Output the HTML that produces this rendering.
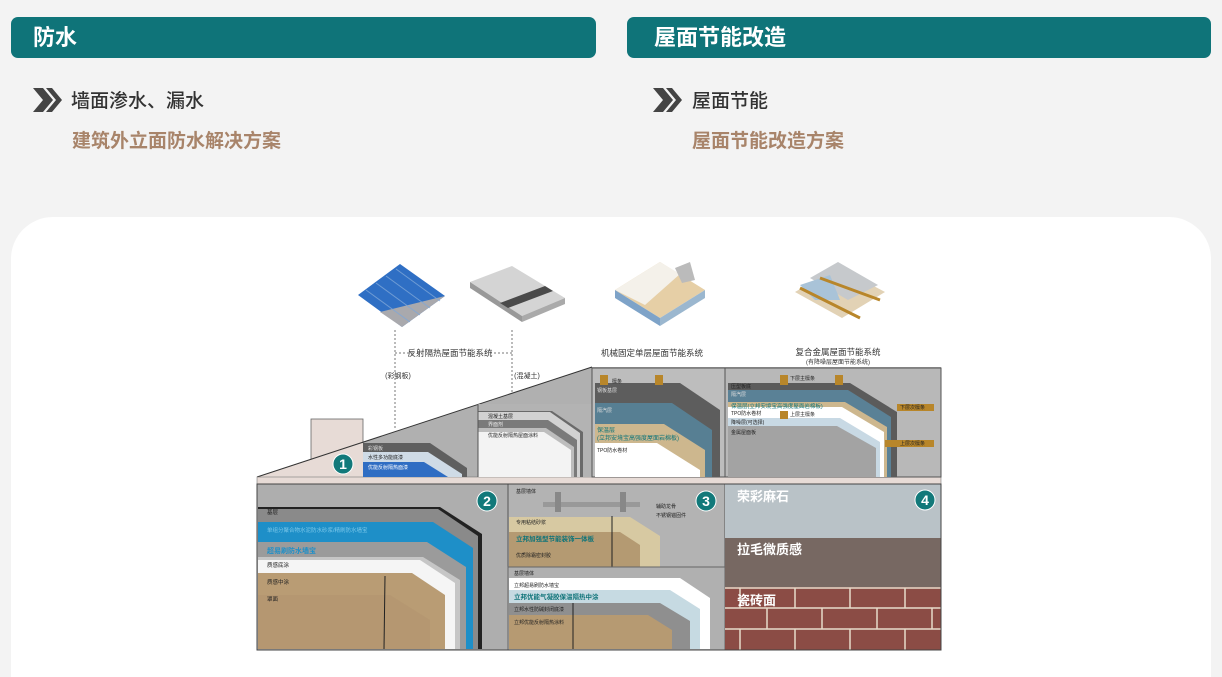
<!DOCTYPE html>
<html><head><meta charset="utf-8"><style>
*{margin:0;padding:0;box-sizing:border-box}
body{width:1222px;height:658px;background:#f3f3f3;position:relative;overflow:hidden;font-family:"Liberation Sans","Noto Sans CJK SC",sans-serif}
.bar{position:absolute;top:17px;height:41px;background:#0f7479;border-radius:7px;color:#fff;font-size:22px;font-weight:bold;line-height:41px;padding-left:22px}
.t1{position:absolute;font-size:19px;color:#333;font-weight:500}
.t2{position:absolute;font-size:19px;color:#a8846a;font-weight:bold}
.card{position:absolute;left:11px;top:217px;width:1200px;height:460px;background:#fff;border-radius:42px 42px 0 0}
svg{position:absolute;left:0;top:0}
</style></head><body>
<div class="bar" style="left:11px;width:585px">防水</div>
<div class="bar" style="left:627px;width:584px;padding-left:27px">屋面节能改造</div>
<svg width="1222" height="200" style="z-index:2">
<g fill="#444"><polygon points="33,88 43,88 53,100 43,112 33,112 43,100"/><polygon points="46,88 52,88 62,100 52,112 46,112 56,100"/>
<polygon points="653,88 663,88 673,100 663,112 653,112 663,100"/><polygon points="666,88 672,88 682,100 672,112 666,112 676,100"/></g>
</svg>
<div class="t1" style="left:71px;top:86px">墙面渗水、漏水</div>
<div class="t2" style="left:72px;top:126px">建筑外立面防水解决方案</div>
<div class="t1" style="left:692px;top:86px">屋面节能</div>
<div class="t2" style="left:692px;top:126px">屋面节能改造方案</div>
<div class="card"></div>
<svg width="1222" height="658" font-family="Liberation Sans, Noto Sans CJK SC, sans-serif">
<polygon points="358,295 400,264 445,296 402,327" fill="#2f6fc4"/>
<polygon points="380,312 445,296 402,327" fill="#a9a9ad"/>
<g stroke="#7fa7d8" stroke-width="1" opacity=".8"><line x1="366" y1="290" x2="410" y2="322"/><line x1="376" y1="283" x2="420" y2="315"/><line x1="386" y1="276" x2="430" y2="308"/><line x1="396" y1="269" x2="440" y2="301"/></g>
<polygon points="470,282 512,266 565,298 522,316" fill="#d4d4d4"/>
<polygon points="470,282 470,288 522,322 522,316" fill="#999"/>
<polygon points="522,316 565,298 565,304 522,322" fill="#aaa"/>
<polygon points="500,303 545,286 553,291 508,308" fill="#4a4a4a"/>
<polygon points="615,290 660,262 705,290 660,318" fill="#e6cfa6"/>
<polygon points="615,290 660,262 680,274 645,305" fill="#f4f1ea"/>
<polygon points="615,290 660,318 660,326 615,298" fill="#7ea3c8"/>
<polygon points="660,318 705,290 705,298 660,326" fill="#9bb7cf"/>
<polygon points="675,268 690,262 695,280 682,283" fill="#bbb"/>
<polygon points="795,292 838,267 885,292 842,318" fill="#e2d2b5"/>
<polygon points="810,278 838,262 878,285 848,300" fill="#c6c9cc"/>
<polygon points="800,285 830,275 840,300 815,300" fill="#a9c3d8"/>
<g stroke="#b8862a" stroke-width="3"><line x1="800" y1="288" x2="860" y2="318"/><line x1="820" y1="278" x2="880" y2="300"/></g>
<g font-size="8.5" fill="#333" text-anchor="middle">
<text x="450" y="356">反射隔热屋面节能系统</text>
<text x="652" y="356">机械固定单层屋面节能系统</text>
<text x="838" y="355">复合金属屋面节能系统</text>
<text x="838" y="364" font-size="6">(有降噪层屋面节能系统)</text>
<text x="398" y="378" font-size="7">(彩钢板)</text>
<text x="527" y="378" font-size="7">(混凝土)</text>
</g>
<g stroke="#777" stroke-dasharray="2,2" fill="none"><polyline points="395,330 395,430"/><polyline points="512,330 512,400"/><line x1="395" y1="353" x2="414" y2="353"/><line x1="490" y1="353" x2="512" y2="353"/></g>
<polygon points="257,477 592,367 941,367 941,650 257,650" fill="#b0b0b0"/>
<rect x="311" y="419" width="52" height="58" fill="#e7dbd6" stroke="#666" stroke-width=".8"/>
<polygon points="257,477 363,443 363,477" fill="#e7dbd6"/>
<line x1="257" y1="477" x2="592" y2="367" stroke="#333" stroke-width="1"/>
<rect x="257" y="477" width="684" height="7" fill="#e7dbd6" stroke="#666" stroke-width=".5"/>
<polygon points="363,443 430,443 467,468 467,477 363,477" fill="#5f5f5f"/>
<polygon points="363,452 428,452 462,474 462,477 363,477" fill="#cfdbe6"/>
<polygon points="363,462 424,462 448,477 363,477" fill="#2f6dc3"/>
<g font-size="5" fill="#222"><text x="368" y="450" fill="#ddd">彩钢板</text><text x="368" y="459">水性多功能底漆</text><text x="368" y="469" fill="#fff">优能反射隔热面漆</text></g>
<rect x="478" y="404" width="114" height="73" fill="#b3b3b3"/>
<polygon points="478,411 552,411 583,432 583,477 478,477" fill="#6a6a6a"/>
<polygon points="478,412 550,412 580,433 580,477 478,477" fill="#d2d2d2"/>
<polygon points="478,420 548,420 577,440 577,477 478,477" fill="#7a7a7a"/>
<polygon points="478,428 546,428 574,447 574,477 478,477" fill="#bdbdbd"/>
<polygon points="478,432 544,432 571,450 571,477 478,477" fill="#f3f3f3"/>
<g font-size="5" fill="#222"><text x="488" y="418">混凝土基层</text><text x="488" y="426" fill="#eee">界面剂</text><text x="488" y="437">优能反射隔热屋面涂料</text></g>
<line x1="478" y1="404" x2="478" y2="477" stroke="#555"/>
<rect x="592" y="368" width="133" height="109" fill="#bdbdbd" stroke="#555" stroke-width="1"/>
<polygon points="595,383 680,383 720,410 720,477 595,477" fill="#5d5d5d"/>
<polygon points="595,403 672,403 712,430 712,477 595,477" fill="#577f93"/>
<polygon points="595,424 664,424 705,450 705,477 595,477" fill="#cdb78e"/>
<polygon points="595,443 657,443 700,470 700,477 595,477" fill="#fff"/>
<rect x="600" y="375" width="8" height="10" fill="#b8862a"/><rect x="655" y="375" width="8" height="10" fill="#b8862a"/>
<g font-size="5" fill="#222"><text x="612" y="383">檩条</text><text x="597" y="392" fill="#ddd">钢板基层</text><text x="597" y="412" fill="#ddd">隔汽层</text>
<text x="597" y="432" fill="#0f7479" font-size="6">保温层</text><text x="597" y="440" fill="#0f7479" font-size="6">(立邦安境宝高强度屋面岩棉板)</text><text x="597" y="452">TPO防水卷材</text></g>
<rect x="725" y="368" width="216" height="109" fill="#b8b8b8" stroke="#555"/>
<polygon points="728,383 850,383 897,412 897,477 728,477" fill="#5b5b5b"/>
<polygon points="728,390 848,390 891,417 891,477 728,477" fill="#5a8196"/>
<polygon points="728,402 845,402 887,427 887,477 728,477" fill="#cdb78e"/>
<polygon points="728,407 842,407 884,432 884,477 728,477" fill="#fff"/>
<polygon points="728,418 840,418 880,442 880,477 728,477" fill="#c8d9e4"/>
<polygon points="728,426 837,426 876,448 876,477 728,477" fill="#a3a3a3"/>
<rect x="780" y="375" width="8" height="10" fill="#b8862a"/><rect x="835" y="375" width="8" height="10" fill="#b8862a"/>
<rect x="780" y="411" width="8" height="8" fill="#b8862a"/>
<rect x="897" y="404" width="37" height="7" fill="#b8862a"/><rect x="885" y="440" width="49" height="7" fill="#b8862a"/>
<g font-size="5" fill="#222"><text x="790" y="380">下层主檩条</text><text x="731" y="388">压型板底</text><text x="731" y="396" fill="#ddd">隔汽层</text>
<text x="731" y="408" fill="#0f7479" font-size="5.5">保温层(立邦安境宝高强度屋面岩棉板)</text><text x="731" y="415">TPO防水卷材</text><text x="790" y="416">上层主檩条</text>
<text x="731" y="424">降噪层(可选择)</text><text x="731" y="434">金属屋面板</text><text x="900" y="409">下层次檩条</text><text x="900" y="445">上层次檩条</text></g>
<rect x="257" y="484" width="251" height="166" fill="#aeaeae" stroke="#444"/>
<polygon points="258,507 440,507 482,534 482,649 258,649" fill="#222"/>
<polygon points="258,509 438,509 478,536 478,649 258,649" fill="#8a8a8a"/>
<polygon points="258,522 433,522 473,548 473,649 258,649" fill="#1e8fc8"/>
<polygon points="258,542 427,542 466,567 466,649 258,649" fill="#9b9b9b"/>
<polygon points="258,557 423,557 460,580 460,649 258,649" fill="#c6c6c6"/>
<polygon points="258,560 420,560 455,583 455,649 258,649" fill="#f5f5f5"/>
<polygon points="258,573 412,573 445,595 445,649 258,649" fill="#b99c74"/>
<polygon points="258,595 390,595 430,620 430,649 258,649" fill="#b49670" opacity=".7"/>
<line x1="385" y1="576" x2="384" y2="649" stroke="#222"/>
<g font-size="5.5" fill="#222"><text x="267" y="514">基层</text><text x="267" y="532" fill="#7cc8ea">单组分聚合物水泥防水砂浆/精刷防水墙宝</text>
<text x="267" y="553" fill="#1e8fc8" font-size="7" font-weight="bold">超易刷防水墙宝</text><text x="267" y="567">质感底涂</text><text x="267" y="584">质感中涂</text><text x="267" y="601">罩面</text></g>
<rect x="508" y="484" width="217" height="166" fill="#b3b3b3" stroke="#555"/>
<rect x="543" y="502" width="97" height="5" fill="#999"/><rect x="555" y="492" width="6" height="20" fill="#888"/><rect x="620" y="492" width="6" height="20" fill="#888"/>
<polygon points="509,517 630,517 660,536 660,567 509,567" fill="#d7c9a2"/>
<polygon points="509,532 620,532 640,545 640,567 509,567" fill="#b49a72"/>
<line x1="612" y1="516" x2="612" y2="567" stroke="#222"/>
<rect x="508" y="567" width="217" height="83" fill="#b0b0b0" stroke="#666"/>
<polygon points="509,578 680,578 710,598 710,649 509,649" fill="#fff"/>
<polygon points="509,590 670,590 700,609 700,649 509,649" fill="#c6dae2"/>
<polygon points="509,603 660,603 690,621 690,649 509,649" fill="#8f8f8f"/>
<polygon points="509,615 648,615 672,630 672,649 509,649" fill="#b69a72"/>
<line x1="573" y1="603" x2="573" y2="649" stroke="#222"/>
<g font-size="5" fill="#222"><text x="516" y="493">基层墙体</text><text x="516" y="524">专用粘结砂浆</text>
<text x="516" y="541" fill="#0f7479" font-size="6.5" font-weight="bold">立邦加强型节能装饰一体板</text><text x="516" y="557">优质除霜密封胶</text>
<text x="656" y="508">辅助龙骨</text><text x="656" y="517">不锈钢锚固件</text>
<text x="514" y="575">基层墙体</text><text x="514" y="587">立邦超易刷防水墙宝</text>
<text x="514" y="599" fill="#0f7479" font-size="6.5" font-weight="bold">立邦优能气凝胶保温隔热中涂</text><text x="514" y="611">立邦水性防碱封闭底漆</text><text x="514" y="624">立邦优能反射隔热涂料</text></g>
<rect x="725" y="484" width="216" height="54" fill="#b9c2c7"/>
<rect x="725" y="538" width="216" height="49" fill="#776862"/>
<rect x="725" y="587" width="216" height="63" fill="#8b4c45"/>
<g stroke="#e7dccb" stroke-width="1.5"><line x1="725" y1="588" x2="941" y2="588"/><line x1="725" y1="608" x2="941" y2="608"/><line x1="725" y1="629" x2="941" y2="629"/>
<line x1="740" y1="588" x2="740" y2="608"/><line x1="795" y1="588" x2="795" y2="608"/><line x1="850" y1="588" x2="850" y2="608"/><line x1="905" y1="588" x2="905" y2="608"/>
<line x1="767" y1="608" x2="767" y2="629"/><line x1="822" y1="608" x2="822" y2="629"/><line x1="877" y1="608" x2="877" y2="629"/><line x1="932" y1="608" x2="932" y2="629"/>
<line x1="740" y1="629" x2="740" y2="650"/><line x1="795" y1="629" x2="795" y2="650"/><line x1="850" y1="629" x2="850" y2="650"/><line x1="905" y1="629" x2="905" y2="650"/></g>
<g font-size="13" fill="#fff" font-weight="bold"><text x="737" y="501">荣彩麻石</text><text x="737" y="554">拉毛微质感</text><text x="737" y="605">瓷砖面</text></g>
<rect x="257" y="484" width="684" height="166" fill="none" stroke="#444"/>
<g fill="#12797a" stroke="#fff" stroke-width="1"><circle cx="343" cy="464" r="10"/><circle cx="487" cy="501" r="10"/><circle cx="706" cy="501" r="10"/><circle cx="925" cy="500" r="10"/></g>
<g fill="#fff" font-size="14" font-weight="bold" text-anchor="middle"><text x="343" y="469">1</text><text x="487" y="506">2</text><text x="706" y="506">3</text><text x="925" y="505">4</text></g>
</svg>
</body></html>
